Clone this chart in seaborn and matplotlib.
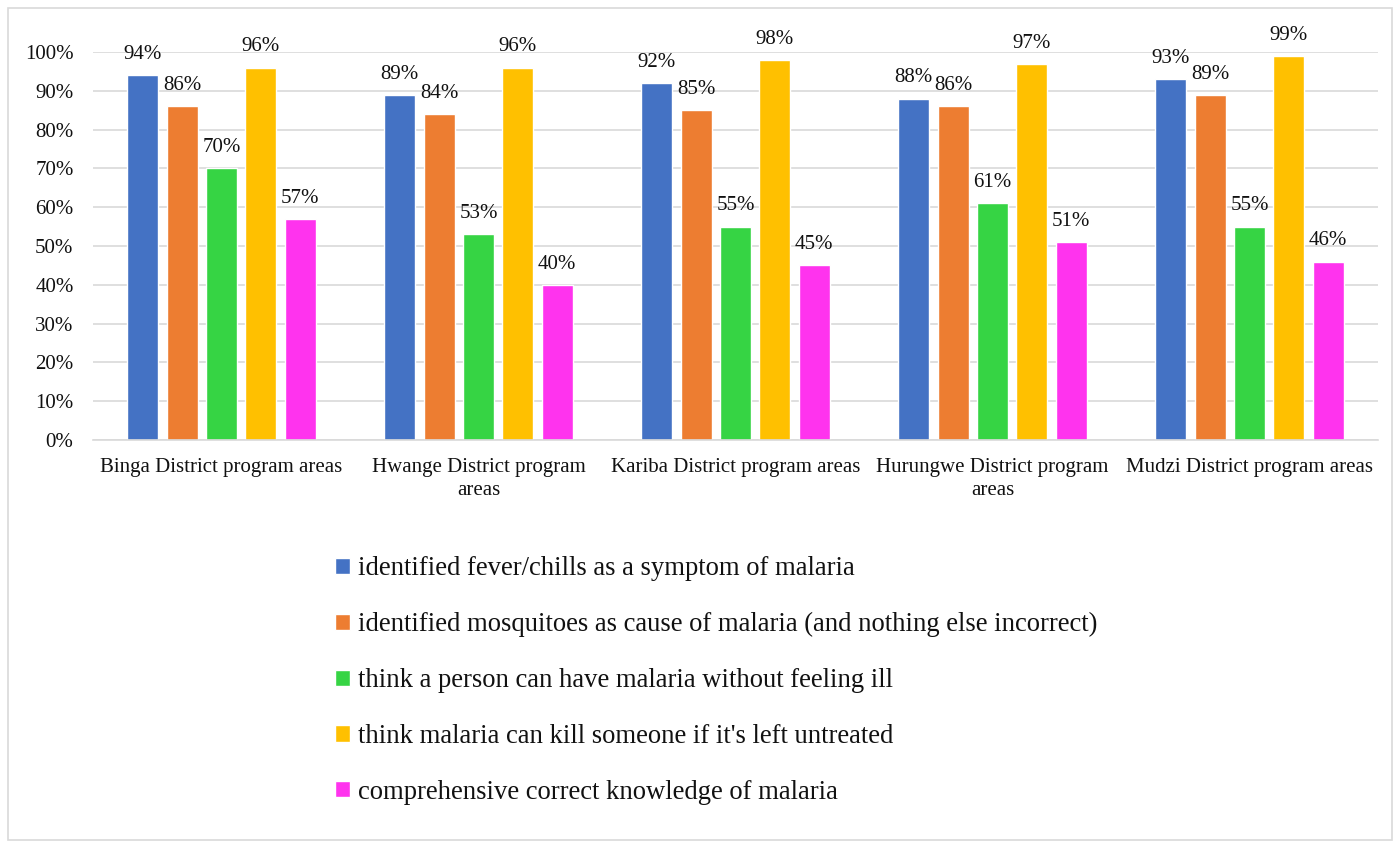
import matplotlib
matplotlib.use("Agg")
import matplotlib.pyplot as plt
import matplotlib.patches as mpatches
import seaborn as sns
import pandas as pd
from matplotlib.ticker import PercentFormatter

areas = ["Binga District program areas", "Hwange District program\nareas",
         "Kariba District program areas", "Hurungwe District program\nareas",
         "Mudzi District program areas"]
series = ["identified fever/chills as a symptom of malaria",
          "identified mosquitoes as cause of malaria (and nothing else incorrect)",
          "think a person can have malaria without feeling ill",
          "think malaria can kill someone if it's left untreated",
          "comprehensive correct knowledge of malaria"]
fever = [0.94, 0.89, 0.92, 0.88, 0.93]
mosquito = [0.86, 0.84, 0.85, 0.86, 0.89]
without_ill = [0.70, 0.53, 0.55, 0.61, 0.55]
kill = [0.96, 0.96, 0.98, 0.97, 0.99]
comprehensive = [0.57, 0.40, 0.45, 0.51, 0.46]
colors = ["#4472C4", "#ED7D31", "#36D444", "#FFC000", "#FF33EE"]

values = [fever, mosquito, without_ill, kill, comprehensive]
rows = []
for s, vals in zip(series, values):
    for a, v in zip(areas, vals):
        rows.append({"area": a, "series": s, "value": v})
df = pd.DataFrame(rows)

sns.set_theme(style="white")
plt.rcParams["font.family"] = ["Liberation Serif", "DejaVu Serif"]

fig = plt.figure(figsize=(14, 8.48), dpi=100)
ax = fig.add_axes([93/1400, 1-440/848, (1378-93)/1400, (440-52)/848])

sns.barplot(data=df, x="area", y="value", hue="series", palette=colors,
            order=areas, hue_order=series, width=0.765, gap=0.21, ax=ax,
            errorbar=None, saturation=1)

for cont in ax.containers:
    ax.bar_label(cont, labels=[f"{b.get_height()*100:.0f}%" for b in cont],
                 padding=8, fontsize=15, color="#111111")

ax.set_ylim(0, 1.0)
ax.set_yticks([i/10 for i in range(11)])
ax.yaxis.set_major_formatter(PercentFormatter(1.0, decimals=0))
ax.grid(axis="y", color="#d9d9d9", linewidth=1.2)
ax.set_axisbelow(True)
for side in ["left", "right", "top"]:
    ax.spines[side].set_visible(False)
ax.spines["bottom"].set_color("#d9d9d9")
ax.spines["bottom"].set_linewidth(1.2)
ax.tick_params(axis="y", length=0, pad=14, labelsize=15, labelcolor="#111111")
ax.tick_params(axis="x", length=0, pad=13, labelsize=15, labelcolor="#111111")
for lab in ax.get_xticklabels():
    lab.set_linespacing(1.25)
ax.set_xlabel("")
ax.set_ylabel("")
ax.set_xlim(-0.5, 4.5)

handles, labels = ax.get_legend_handles_labels()
ax.get_legend().remove()
fig.legend(handles, labels, loc="upper left", bbox_to_anchor=(335/1400, 1-556/848),
           frameon=False, fontsize=19.2, handlelength=0.55, handleheight=0.55,
           handletextpad=0.3, labelspacing=1.16, borderaxespad=0, borderpad=0,
           labelcolor="#111111")

fig.patches.append(mpatches.Rectangle((8/1400, 8/848), 1384/1400, 832/848,
                                      transform=fig.transFigure, fill=False,
                                      edgecolor="#d9d9d9", linewidth=1.2))

fig.savefig("out.png", dpi=100)
